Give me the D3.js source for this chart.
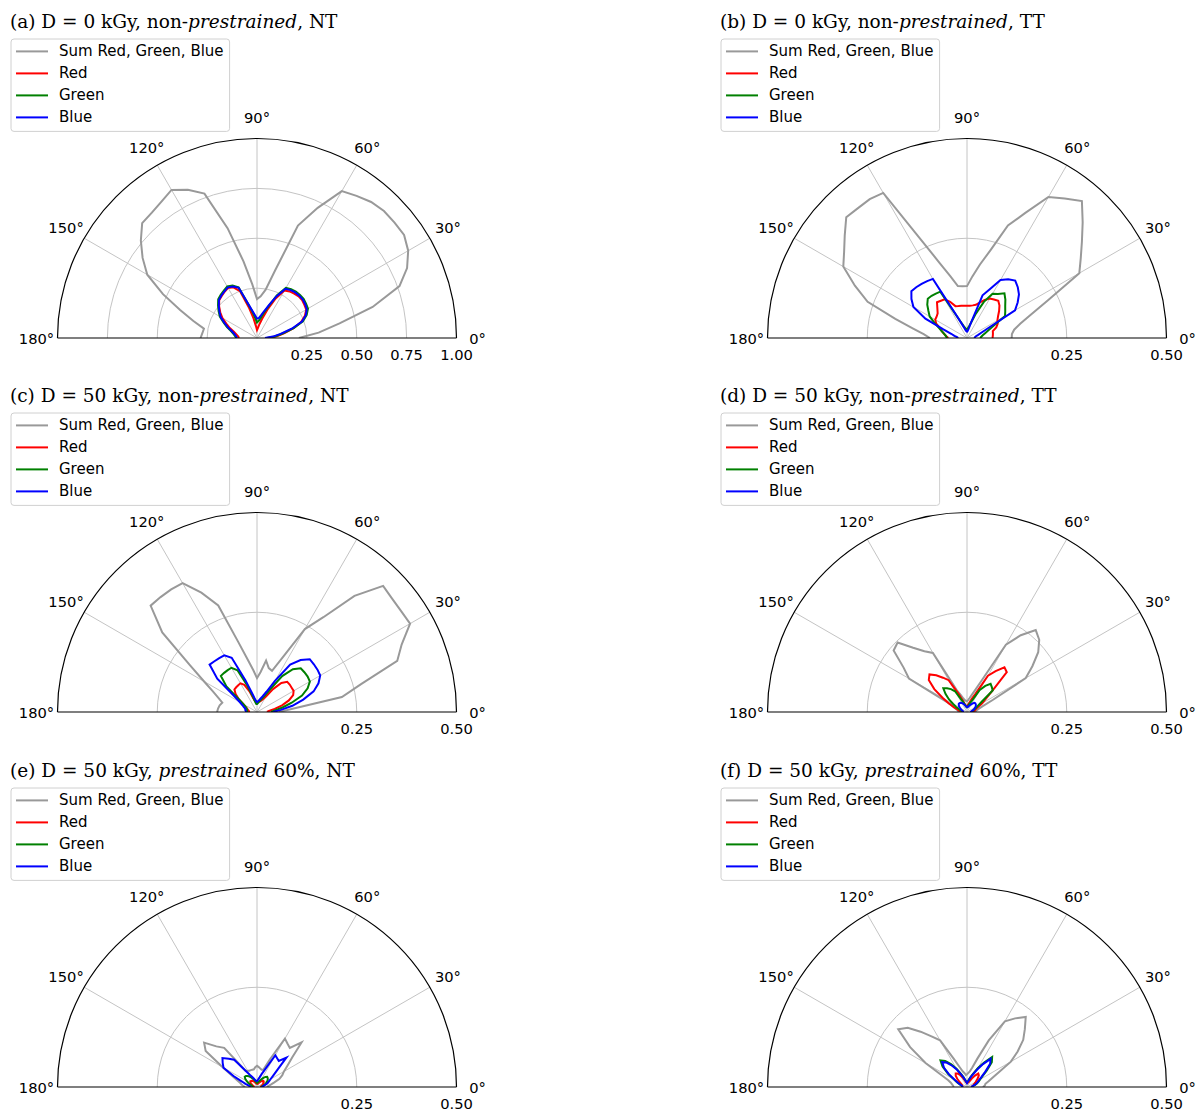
<!DOCTYPE html>
<html>
<head>
<meta charset="utf-8">
<script src="https://cdn.jsdelivr.net/npm/d3@7"></script>
<style>
  body { margin: 0; background: #fff; }
  text { font-family: "DejaVu Sans", sans-serif; }
</style>
</head>
<body>
<svg id="chart" width="1198" height="1111"></svg>
<script>
// polar angle of every sample, degrees
var angles = [0, 5, 10, 15, 20, 25, 30, 35, 40, 45, 50, 55, 60, 65, 70, 75, 80, 85, 90,
    95, 100, 105, 110, 115, 120, 125, 130, 135, 140, 145, 150, 155, 160, 165, 170, 175, 180];

var seriesNames = ["Sum Red, Green, Blue", "Red", "Green", "Blue"];
var seriesColors = ["#999999", "#ff0000", "#008000", "#0000ff"];

// (a) D = 0 kGy, non-prestrained, NT
var aSum = [0.21, 0.31, 0.42, 0.6, 0.76, 0.83, 0.875, 0.9, 0.9, 0.9, 0.89, 0.87, 0.85, 0.72, 0.6, 0.35, 0.245, 0.21, 0.195,
    0.27, 0.39, 0.57, 0.77, 0.82, 0.857, 0.835, 0.82, 0.814, 0.76, 0.7, 0.635, 0.52, 0.41, 0.33, 0.27, 0.275, 0.283];
var aRed = [0.06, 0.1, 0.14, 0.19, 0.235, 0.265, 0.285, 0.29, 0.295, 0.295, 0.29, 0.285, 0.275, 0.215, 0.15, 0.1, 0.07, 0.05, 0.04,
    0.06, 0.1, 0.16, 0.25, 0.28, 0.29, 0.283, 0.275, 0.268, 0.248, 0.225, 0.2, 0.17, 0.145, 0.12, 0.105, 0.095, 0.09];
var aGreen = [0.05, 0.09, 0.13, 0.19, 0.245, 0.275, 0.295, 0.3, 0.305, 0.305, 0.303, 0.298, 0.29, 0.235, 0.17, 0.13, 0.1, 0.085, 0.078,
    0.1, 0.135, 0.18, 0.27, 0.29, 0.298, 0.29, 0.283, 0.275, 0.255, 0.235, 0.215, 0.185, 0.16, 0.135, 0.12, 0.11, 0.105];
var aBlue = [0.04, 0.08, 0.12, 0.18, 0.24, 0.27, 0.288, 0.295, 0.3, 0.3, 0.298, 0.293, 0.285, 0.23, 0.175, 0.14, 0.115, 0.1, 0.097,
    0.114, 0.14, 0.183, 0.268, 0.285, 0.293, 0.285, 0.278, 0.27, 0.25, 0.23, 0.21, 0.18, 0.155, 0.13, 0.115, 0.105, 0.1];

// (b) D = 0 kGy, non-prestrained, TT
var bSum = [0.112, 0.113, 0.12, 0.138, 0.17, 0.224, 0.325, 0.348, 0.376, 0.41, 0.448, 0.427, 0.408, 0.346, 0.3, 0.228, 0.187, 0.155, 0.13,
    0.13, 0.132, 0.16, 0.2, 0.27, 0.42, 0.425, 0.425, 0.428, 0.4, 0.376, 0.358, 0.31, 0.265, 0.186, 0.137, 0.109, 0.093];
var bRed = [0.064, 0.065, 0.066, 0.067, 0.078, 0.085, 0.088, 0.095, 0.105, 0.115, 0.122, 0.118, 0.114, 0.105, 0.095, 0.086, 0.083, 0.081, 0.081,
    0.081, 0.082, 0.083, 0.085, 0.1, 0.112, 0.114, 0.117, 0.105, 0.096, 0.093, 0.092, 0.085, 0.072, 0.065, 0.058, 0.052, 0.047];
var bGreen = [0.033, 0.036, 0.04, 0.047, 0.058, 0.075, 0.11, 0.117, 0.125, 0.136, 0.146, 0.135, 0.128, 0.1, 0.065, 0.04, 0.03, 0.025, 0.022,
    0.022, 0.025, 0.03, 0.04, 0.06, 0.134, 0.136, 0.138, 0.139, 0.13, 0.118, 0.108, 0.09, 0.075, 0.065, 0.058, 0.053, 0.05];
var bBlue = [0.018, 0.02, 0.022, 0.028, 0.037, 0.058, 0.139, 0.155, 0.17, 0.18, 0.188, 0.18, 0.168, 0.135, 0.114, 0.042, 0.024, 0.018, 0.016,
    0.017, 0.02, 0.026, 0.037, 0.063, 0.171, 0.174, 0.177, 0.18, 0.182, 0.17, 0.155, 0.115, 0.063, 0.041, 0.032, 0.025, 0.022];

// (c) D = 50 kGy, non-prestrained, NT
var cSum = [0.055, 0.087, 0.216, 0.27, 0.374, 0.4, 0.443, 0.441, 0.442, 0.447, 0.38, 0.29, 0.24, 0.15, 0.11, 0.114, 0.131, 0.1, 0.085,
    0.105, 0.133, 0.182, 0.284, 0.33, 0.373, 0.375, 0.376, 0.377, 0.31, 0.206, 0.153, 0.122, 0.103, 0.09, 0.095, 0.098, 0.1];
var cRed = [0.025, 0.03, 0.045, 0.065, 0.085, 0.1, 0.106, 0.106, 0.107, 0.107, 0.095, 0.07, 0.045, 0.035, 0.03, 0.027, 0.026, 0.025, 0.025,
    0.025, 0.028, 0.035, 0.055, 0.075, 0.083, 0.082, 0.081, 0.08, 0.07, 0.055, 0.04, 0.032, 0.027, 0.024, 0.022, 0.02, 0.02];
var cGreen = [0.035, 0.045, 0.065, 0.09, 0.12, 0.14, 0.153, 0.155, 0.155, 0.155, 0.14, 0.11, 0.065, 0.045, 0.035, 0.03, 0.025, 0.022, 0.02,
    0.02, 0.025, 0.04, 0.07, 0.115, 0.128, 0.128, 0.128, 0.128, 0.1, 0.055, 0.04, 0.032, 0.028, 0.026, 0.025, 0.025, 0.025];
var cBlue = [0.04, 0.06, 0.09, 0.12, 0.151, 0.17, 0.183, 0.185, 0.186, 0.187, 0.17, 0.145, 0.09, 0.056, 0.042, 0.035, 0.03, 0.027, 0.025,
    0.028, 0.035, 0.05, 0.085, 0.15, 0.164, 0.165, 0.166, 0.168, 0.13, 0.07, 0.05, 0.04, 0.035, 0.03, 0.03, 0.028, 0.028];

// (d) D = 50 kGy, non-prestrained, TT
var dSum = [0.02, 0.022, 0.025, 0.03, 0.041, 0.071, 0.17, 0.2, 0.233, 0.256, 0.268, 0.235, 0.195, 0.087, 0.057, 0.043, 0.035, 0.03, 0.027,
    0.028, 0.03, 0.035, 0.045, 0.06, 0.171, 0.186, 0.21, 0.246, 0.24, 0.194, 0.168, 0.045, 0.035, 0.028, 0.024, 0.022, 0.02];
var dRed = [0.015, 0.017, 0.02, 0.022, 0.025, 0.032, 0.044, 0.058, 0.084, 0.141, 0.146, 0.125, 0.105, 0.05, 0.035, 0.025, 0.02, 0.017, 0.015,
    0.015, 0.017, 0.02, 0.03, 0.05, 0.092, 0.105, 0.12, 0.133, 0.125, 0.1, 0.07, 0.05, 0.035, 0.025, 0.02, 0.017, 0.015];
var dGreen = [0.01, 0.012, 0.014, 0.016, 0.02, 0.025, 0.032, 0.045, 0.084, 0.088, 0.092, 0.08, 0.064, 0.035, 0.025, 0.02, 0.015, 0.013, 0.012,
    0.012, 0.014, 0.018, 0.025, 0.035, 0.06, 0.07, 0.078, 0.084, 0.07, 0.055, 0.04, 0.03, 0.022, 0.016, 0.013, 0.011, 0.01];
var dBlue = [0.008, 0.01, 0.012, 0.015, 0.018, 0.021, 0.024, 0.027, 0.029, 0.03, 0.03, 0.027, 0.023, 0.02, 0.017, 0.015, 0.013, 0.012, 0.012,
    0.013, 0.015, 0.017, 0.02, 0.023, 0.026, 0.028, 0.029, 0.029, 0.027, 0.024, 0.02, 0.017, 0.014, 0.012, 0.01, 0.009, 0.008];

// (e) D = 50 kGy, prestrained 60%, NT
var eSum = [0.025, 0.028, 0.035, 0.045, 0.06, 0.07, 0.078, 0.093, 0.115, 0.158, 0.128, 0.133, 0.14, 0.076, 0.046, 0.045, 0.047, 0.05, 0.053,
    0.05, 0.045, 0.045, 0.045, 0.045, 0.047, 0.05, 0.128, 0.144, 0.173, 0.157, 0.1, 0.072, 0.056, 0.045, 0.04, 0.035, 0.03];
var eRed = [0.008, 0.009, 0.01, 0.012, 0.014, 0.016, 0.018, 0.02, 0.022, 0.022, 0.02, 0.017, 0.014, 0.012, 0.01, 0.009, 0.008, 0.008, 0.008,
    0.008, 0.009, 0.01, 0.012, 0.014, 0.016, 0.018, 0.02, 0.021, 0.022, 0.02, 0.017, 0.014, 0.012, 0.01, 0.009, 0.008, 0.008];
var eGreen = [0.01, 0.012, 0.015, 0.018, 0.022, 0.026, 0.03, 0.033, 0.035, 0.036, 0.033, 0.028, 0.022, 0.018, 0.015, 0.013, 0.012, 0.011, 0.01,
    0.011, 0.013, 0.015, 0.018, 0.022, 0.027, 0.032, 0.036, 0.039, 0.04, 0.036, 0.03, 0.024, 0.018, 0.015, 0.012, 0.011, 0.01];
var eBlue = [0.012, 0.014, 0.017, 0.022, 0.028, 0.033, 0.039, 0.049, 0.066, 0.104, 0.085, 0.088, 0.092, 0.05, 0.035, 0.025, 0.02, 0.016, 0.015,
    0.015, 0.016, 0.018, 0.022, 0.028, 0.035, 0.05, 0.089, 0.1, 0.113, 0.105, 0.097, 0.065, 0.04, 0.03, 0.022, 0.018, 0.015];

// (f) D = 50 kGy, prestrained 60%, TT
var fSum = [0.04, 0.045, 0.047, 0.056, 0.068, 0.088, 0.127, 0.155, 0.184, 0.205, 0.229, 0.21, 0.19, 0.129, 0.075, 0.05, 0.04, 0.035, 0.032,
    0.03, 0.035, 0.04, 0.052, 0.077, 0.135, 0.155, 0.181, 0.21, 0.225, 0.174, 0.12, 0.07, 0.05, 0.042, 0.038, 0.035, 0.033];
var fRed = [0.012, 0.013, 0.014, 0.016, 0.018, 0.021, 0.025, 0.03, 0.036, 0.042, 0.044, 0.035, 0.025, 0.018, 0.014, 0.012, 0.011, 0.01, 0.01,
    0.011, 0.012, 0.015, 0.02, 0.027, 0.035, 0.041, 0.044, 0.04, 0.032, 0.024, 0.018, 0.015, 0.013, 0.012, 0.012, 0.012, 0.012];
var fGreen = [0.011, 0.013, 0.016, 0.021, 0.027, 0.032, 0.038, 0.048, 0.065, 0.088, 0.098, 0.075, 0.055, 0.038, 0.027, 0.02, 0.015, 0.013, 0.011,
    0.013, 0.015, 0.019, 0.027, 0.037, 0.053, 0.07, 0.085, 0.094, 0.08, 0.058, 0.037, 0.027, 0.019, 0.015, 0.013, 0.012, 0.011];
var fBlue = [0.01, 0.012, 0.015, 0.02, 0.025, 0.03, 0.035, 0.045, 0.06, 0.082, 0.092, 0.07, 0.05, 0.035, 0.025, 0.018, 0.014, 0.012, 0.01,
    0.012, 0.014, 0.018, 0.025, 0.035, 0.05, 0.065, 0.08, 0.088, 0.075, 0.055, 0.035, 0.025, 0.018, 0.014, 0.012, 0.011, 0.01];

// title pieces: plain, italic, plain
var titles = [
    ["(a) D = 0 kGy, non-", "prestrained", ", NT"],
    ["(b) D = 0 kGy, non-", "prestrained", ", TT"],
    ["(c) D = 50 kGy, non-", "prestrained", ", NT"],
    ["(d) D = 50 kGy, non-", "prestrained", ", TT"],
    ["(e) D = 50 kGy, ", "prestrained", " 60%, NT"],
    ["(f) D = 50 kGy, ", "prestrained", " 60%, TT"]
];
var radialMax = [1.0, 0.5, 0.5, 0.5, 0.5, 0.5];
var radialTicksA = [0.25, 0.5, 0.75, 1.0];
var radialTicksB = [0.25, 0.5];
var thetaTicks = [0, 30, 60, 90, 120, 150, 180];
var panelData = [
    [aSum, aRed, aGreen, aBlue],
    [bSum, bRed, bGreen, bBlue],
    [cSum, cRed, cGreen, cBlue],
    [dSum, dRed, dGreen, dBlue],
    [eSum, eRed, eGreen, eBlue],
    [fSum, fRed, fGreen, fBlue]
];

var svg = d3.select("#chart");
var R = 199.5;
var colX = [257, 967],
    rowY = [338, 712, 1087];

var angleScale = d3.scaleLinear()
    .domain([0, 180])
    .range([Math.PI / 2, -Math.PI / 2]);

function toXY(deg, r) {
    var t = deg * Math.PI / 180;
    return [r * Math.cos(t), -r * Math.sin(t)];
}

// clip to upper half disk
var defs = svg.append("defs");
defs.append("clipPath")
    .attr("id", "halfDisk")
    .append("path")
    .attr("d", function () {
        var p = d3.path();
        p.moveTo(-R, 0);
        p.arc(0, 0, R, Math.PI, 2 * Math.PI);
        p.closePath();
        return p.toString();
    });

function semicircle(r) {
    var p = d3.path();
    p.moveTo(-r, 0);
    p.arc(0, 0, r, Math.PI, 2 * Math.PI);
    return p.toString();
}

panelData.forEach(function (series, i) {
    var cx = colX[i % 2],
        cy = rowY[Math.floor(i / 2)];
    var rMax = radialMax[i];
    var ticks = i == 0 ? radialTicksA : radialTicksB;

    var r = d3.scaleLinear()
        .domain([0, rMax])
        .range([0, R]);

    var g = svg.append("g")
        .attr("transform", "translate(" + cx + "," + cy + ")");

    //grid rings
    g.selectAll(".ring")
        .data(ticks.filter(function (t) { return t < rMax; }))
        .enter()
        .append("path")
        .attr("d", function (t) { return semicircle(r(t)); })
        .attr("fill", "none")
        .attr("stroke", "#c4c4c4")
        .attr("stroke-width", 1);

    //spokes
    g.selectAll(".spoke")
        .data(thetaTicks.filter(function (t) { return t > 0 && t < 180; }))
        .enter()
        .append("line")
        .attr("x1", 0)
        .attr("y1", 0)
        .attr("x2", function (t) { return toXY(t, R)[0]; })
        .attr("y2", function (t) { return toXY(t, R)[1]; })
        .attr("stroke", "#c4c4c4")
        .attr("stroke-width", 1);

    //data lines
    var line = d3.lineRadial()
        .angle(function (d) { return angleScale(d[0]); })
        .radius(function (d) { return r(d[1]); });

    g.append("g")
        .attr("clip-path", "url(#halfDisk)")
        .selectAll("path")
        .data(series)
        .enter()
        .append("path")
        .attr("d", function (vals) {
            return line(angles.map(function (a, k) { return [a, vals[k]]; }));
        })
        .attr("fill", "none")
        .attr("stroke", function (d, k) { return seriesColors[k]; })
        .attr("stroke-width", 2)
        .attr("stroke-linejoin", "miter");

    //spines
    g.append("path")
        .attr("d", semicircle(R))
        .attr("fill", "none")
        .attr("stroke", "#000")
        .attr("stroke-width", 1.2);
    g.append("line")
        .attr("x1", -R).attr("y1", 0)
        .attr("x2", R).attr("y2", 0)
        .attr("stroke", "#000")
        .attr("stroke-width", 1.2);

    //angle labels
    g.selectAll(".thetaLabel")
        .data(thetaTicks)
        .enter()
        .append("text")
        .attr("x", function (t) { return toXY(t, R + 21)[0]; })
        .attr("y", function (t) { return toXY(t, R + 21)[1]; })
        .attr("text-anchor", "middle")
        .attr("dominant-baseline", "central")
        .style("font-size", "14.7px")
        .text(function (t) { return t + "\u00b0"; });

    //radial labels
    g.selectAll(".rLabel")
        .data(ticks)
        .enter()
        .append("text")
        .attr("x", function (t) { return r(t); })
        .attr("y", 16)
        .attr("text-anchor", "middle")
        .attr("dominant-baseline", "central")
        .style("font-size", "14.7px")
        .text(function (t) { return d3.format(".2f")(t); });

    //title
    var title = svg.append("text")
        .attr("x", cx - 247)
        .attr("y", cy - 310)
        .style("font-family", "'DejaVu Serif', serif")
        .style("font-size", "18.5px");
    titles[i].forEach(function (part, k) {
        title.append("tspan")
            .style("font-style", k == 1 ? "italic" : "normal")
            .text(part);
    });

    //legend
    var lx = cx - 246,
        ly = cy - 299;
    var legend = svg.append("g")
        .attr("transform", "translate(" + lx + "," + ly + ")");
    legend.append("rect")
        .attr("width", 218.6)
        .attr("height", 92.4)
        .attr("rx", 3)
        .attr("fill", "#fff")
        .attr("fill-opacity", 0.8)
        .attr("stroke", "#d0d0d0")
        .attr("stroke-width", 1);
    var items = legend.selectAll(".item")
        .data(seriesNames)
        .enter()
        .append("g")
        .attr("transform", function (d, k) { return "translate(0," + (12.4 + k * 22) + ")"; });
    items.append("line")
        .attr("x1", 5).attr("x2", 37)
        .attr("stroke", function (d, k) { return seriesColors[k]; })
        .attr("stroke-width", 2);
    items.append("text")
        .attr("x", 48)
        .attr("dominant-baseline", "central")
        .style("font-size", "15px")
        .text(function (d) { return d; });
});
</script>
</body>
</html>
